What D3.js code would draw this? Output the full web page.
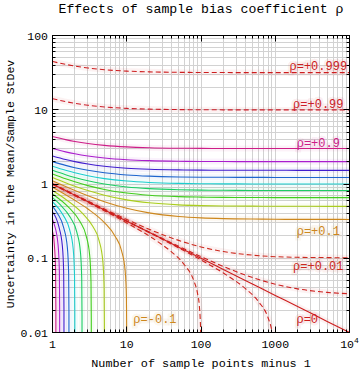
<!DOCTYPE html>
<html>
  <head>
    <meta charset="utf-8">
    <title>Effects of sample bias coefficient</title>
    <script src="https://d3js.org/d3.v7.min.js"></script>
    <style>
body { margin: 0; background: #fff; }
text { font-family: "Liberation Mono", "DejaVu Sans Mono", monospace; }
    </style>
  </head>
  <body>
<script>

// Curves with a positive (or zero) bias coefficient, sampled at the same x points
var rhoPos = [0.1, 0.2, 0.3, 0.4, 0.5, 0.6, 0.7, 0.8, 0.9, 0.99, 0.999, 0, 0.01, 0.001];
var xPos = [1, 1.5, 2, 3, 5, 10, 20, 50, 100, 200, 500, 1000, 2000, 5000, 10000];
var yPos = [
  [1.106, 0.923, 0.816, 0.694, 0.577, 0.471, 0.408, 0.365, 0.350, 0.342, 0.337, 0.335, 0.334, 0.334, 0.333],
  [1.225, 1.041, 0.935, 0.816, 0.707, 0.612, 0.559, 0.524, 0.512, 0.506, 0.503, 0.501, 0.501, 0.500, 0.500],
  [1.363, 1.175, 1.069, 0.951, 0.845, 0.756, 0.707, 0.676, 0.666, 0.660, 0.657, 0.656, 0.655, 0.655, 0.655],
  [1.528, 1.333, 1.225, 1.106, 1.000, 0.913, 0.866, 0.837, 0.827, 0.822, 0.819, 0.818, 0.817, 0.817, 0.817],
  [1.732, 1.528, 1.414, 1.291, 1.183, 1.095, 1.049, 1.020, 1.010, 1.005, 1.002, 1.001, 1.000, 1.000, 1.000],
  [2.000, 1.780, 1.658, 1.528, 1.414, 1.323, 1.275, 1.245, 1.235, 1.230, 1.227, 1.226, 1.225, 1.225, 1.225],
  [2.381, 2.134, 2.000, 1.856, 1.732, 1.633, 1.581, 1.549, 1.538, 1.533, 1.530, 1.529, 1.528, 1.528, 1.528],
  [3.000, 2.708, 2.550, 2.381, 2.236, 2.121, 2.062, 2.025, 2.012, 2.006, 2.002, 2.001, 2.001, 2.000, 2.000],
  [4.359, 3.958, 3.742, 3.512, 3.317, 3.162, 3.082, 3.033, 3.017, 3.008, 3.003, 3.002, 3.001, 3.000, 3.000],
  [14.11, 12.87, 12.21, 11.50, 10.91, 10.44, 10.20, 10.05, 10.00, 9.975, 9.960, 9.955, 9.952, 9.951, 9.950],
  [44.71, 40.81, 38.72, 36.50, 34.63, 33.15, 32.39, 31.92, 31.76, 31.69, 31.64, 31.62, 31.62, 31.61, 31.61],
  [1.000, 0.816, 0.707, 0.577, 0.447, 0.316, 0.224, 0.141, 0.100, 0.0707, 0.0447, 0.0316, 0.0224, 0.0141, 0.0100],
  [1.010, 0.827, 0.718, 0.589, 0.461, 0.333, 0.246, 0.174, 0.142, 0.123, 0.110, 0.105, 0.103, 0.102, 0.101],
  [1.001, 0.818, 0.708, 0.579, 0.449, 0.318, 0.226, 0.145, 0.105, 0.0775, 0.0548, 0.0447, 0.0387, 0.0347, 0.0332]
];

// Curves with a negative coefficient fall to zero, each has its own x points
var rhoNeg = [-0.1, -0.2, -0.3, -0.4, -0.5, -0.6, -0.7, -0.8, -0.9, -0.01, -0.001];
var xNeg = [
  [1, 2, 3, 5, 7, 8.5, 9.5, 9.9, 9.99, 10],
  [1, 1.5, 2.5, 3.5, 4.25, 4.75, 4.95, 4.995, 5],
  [1, 1.667, 2.333, 2.833, 3.167, 3.3, 3.33, 3.333],
  [1, 1.25, 1.75, 2.125, 2.375, 2.475, 2.4975, 2.5],
  [1, 1.4, 1.7, 1.9, 1.98, 1.998, 2],
  [1, 1.167, 1.417, 1.583, 1.65, 1.665, 1.667],
  [1, 1.214, 1.357, 1.414, 1.427, 1.429],
  [1, 1.0625, 1.1875, 1.2375, 1.2488, 1.25],
  [1, 1.0556, 1.1, 1.11, 1.111],
  [1, 3, 10, 30, 40, 60, 80, 90, 95, 99, 100],
  [1, 3, 10, 30, 100, 200, 400, 600, 800, 900, 950, 990, 1000]
];
var yNeg = [
  [0.905, 0.603, 0.461, 0.302, 0.197, 0.127, 0.0692, 0.0303, 0.00954, 0.001],
  [0.817, 0.624, 0.408, 0.267, 0.172, 0.0937, 0.0410, 0.0129, 0.001],
  [0.734, 0.480, 0.315, 0.202, 0.110, 0.0483, 0.0152, 0.001],
  [0.655, 0.535, 0.350, 0.225, 0.123, 0.0537, 0.0169, 0.001],
  [0.577, 0.378, 0.243, 0.133, 0.0580, 0.0183, 0.001],
  [0.500, 0.401, 0.257, 0.141, 0.0615, 0.0194, 0.001],
  [0.420, 0.270, 0.147, 0.0645, 0.0203, 0.001],
  [0.333, 0.280, 0.153, 0.0670, 0.0211, 0.001],
  [0.229, 0.158, 0.0692, 0.0218, 0.001],
  [0.990, 0.566, 0.299, 0.152, 0.122, 0.0812, 0.0498, 0.0332, 0.0228, 0.0100, 0.001],
  [0.999, 0.576, 0.315, 0.180, 0.0948, 0.0632, 0.0387, 0.0258, 0.0158, 0.0105, 0.00725, 0.00318, 0.001]
];

// Curve labels (anchor given in data units)
var labelText = ["ρ=+0.999", "ρ=+0.99", "ρ=+0.9", "ρ=+0.1", "ρ=+0.01", "ρ=0", "ρ=-0.1"];
var labelRho = [0.999, 0.99, 0.9, 0.1, 0.01, 0, -0.1];
var labelX = [3800, 3800, 3800, 3800, 3800, 2700, 24];
var labelY = [39, 12, 3.6, 0.236, 0.08, 0.0155, 0.0155];

var xTickValues = [1, 10, 100, 1000, 10000];
var xTickLabels = ["1", "10", "100", "1000", "10"];
var yTickValues = [0.01, 0.1, 1, 10, 100];
var yTickLabels = ["0.01", "0.1", "1", "10", "100"];

var width = 360,
    height = 372,
    plotLeft = 52.5, plotRight = 349.5,
    plotTop = 35.5, plotBottom = 332.5;

var x = d3.scaleLog().domain([1, 1e4]).range([plotLeft, plotRight]),
    y = d3.scaleLog().domain([0.01, 100]).range([plotBottom, plotTop]);

var svg = d3.select("body")
  .append("svg")
  .attr("width", width)
  .attr("height", height);

svg.append("defs")
  .append("clipPath")
    .attr("id", "plot-clip")
  .append("rect")
    .attr("x", plotLeft)
    .attr("y", plotTop)
    .attr("width", plotRight - plotLeft)
    .attr("height", plotBottom - plotTop);

function snap(v) { return Math.floor(v) + 0.5; }

function isMajor(d) {
  var l = Math.log10(d);
  return Math.abs(l - Math.round(l)) < 1e-6;
}

// hue follows |rho|, so rho near 0 or near 1 both end up red
function colour(rho) {
  return d3.hsl(Math.abs(rho) * 360, 0.75, 0.46).toString();
}

function dashed(rho) {
  var a = Math.abs(rho);
  return a > 0.95 || (a > 0 && a < 0.05);
}

// grid
var gridG = svg.append("g");
gridG.selectAll("line.v")
  .data(x.ticks())
  .enter().append("line")
    .attr("class", "v")
    .attr("x1", function(d) { return snap(x(d)); })
    .attr("x2", function(d) { return snap(x(d)); })
    .attr("y1", plotTop)
    .attr("y2", plotBottom)
    .attr("stroke", "#d2d2d2");
gridG.selectAll("line.h")
  .data(y.ticks())
  .enter().append("line")
    .attr("class", "h")
    .attr("y1", function(d) { return snap(y(d)); })
    .attr("y2", function(d) { return snap(y(d)); })
    .attr("x1", plotLeft)
    .attr("x2", plotRight)
    .attr("stroke", "#d2d2d2");

// build one list of curves from the arrays
var curves = [];
rhoNeg.forEach(function(rho, i) {
  curves.push({ rho: rho, points: xNeg[i].map(function(v, j) { return [v, yNeg[i][j]]; }) });
});
rhoPos.forEach(function(rho, i) {
  curves.push({ rho: rho, points: xPos.map(function(v, j) { return [v, yPos[i][j]]; }) });
});

var line = d3.line()
  .x(function(d) { return x(d[0]); })
  .y(function(d) { return y(d[1]); })
  .curve(d3.curveMonotoneX);

var curveG = svg.append("g").attr("clip-path", "url(#plot-clip)");

// soft halo under each curve
curveG.selectAll("path.halo")
  .data(curves)
  .enter().append("path")
    .attr("class", "halo")
    .attr("d", function(d) { return line(d.points); })
    .attr("fill", "none")
    .attr("stroke", function(d) { return colour(d.rho); })
    .attr("stroke-opacity", 0.06)
    .attr("stroke-width", 6);

curveG.selectAll("path.curve")
  .data(curves)
  .enter().append("path")
    .attr("class", "curve")
    .attr("d", function(d) { return line(d.points); })
    .attr("fill", "none")
    .attr("stroke", function(d) { return colour(d.rho); })
    .attr("stroke-width", 1.1)
    .attr("stroke-dasharray", function(d) { return dashed(d.rho) ? "5,3" : null; });

// curve labels
svg.append("g").selectAll("text")
  .data(labelText)
  .enter().append("text")
    .attr("x", function(d, i) { return x(labelX[i]); })
    .attr("y", function(d, i) { return y(labelY[i]); })
    .attr("dy", "0.35em")
    .attr("text-anchor", "middle")
    .attr("font-size", 12)
    .attr("fill", function(d, i) { return colour(labelRho[i]); })
    .attr("stroke", function(d, i) { return colour(labelRho[i]); })
    .attr("stroke-opacity", 0.08)
    .attr("stroke-width", 5)
    .attr("paint-order", "stroke")
    .text(function(d) { return d; });

// frame
svg.append("rect")
  .attr("x", plotLeft)
  .attr("y", plotTop)
  .attr("width", plotRight - plotLeft)
  .attr("height", plotBottom - plotTop)
  .attr("fill", "none")
  .attr("stroke", "#000");

// inward ticks on all four sides
var tickG = svg.append("g").attr("stroke", "#000");
x.ticks().forEach(function(d) {
  var sx = snap(x(d)), len = isMajor(d) ? 6 : 3;
  tickG.append("line").attr("x1", sx).attr("x2", sx).attr("y1", plotBottom).attr("y2", plotBottom - len);
  tickG.append("line").attr("x1", sx).attr("x2", sx).attr("y1", plotTop).attr("y2", plotTop + len);
});
y.ticks().forEach(function(d) {
  var sy = snap(y(d)), len = isMajor(d) ? 6 : 3;
  tickG.append("line").attr("y1", sy).attr("y2", sy).attr("x1", plotLeft).attr("x2", plotLeft + len);
  tickG.append("line").attr("y1", sy).attr("y2", sy).attr("x1", plotRight).attr("x2", plotRight - len);
});

// tick labels
var xLab = svg.append("g").selectAll("text")
  .data(xTickValues)
  .enter().append("text")
    .attr("x", function(d) { return x(d); })
    .attr("y", plotBottom + 15)
    .attr("text-anchor", "middle")
    .attr("font-size", 11.5)
    .attr("fill", "#000")
    .text(function(d, i) { return xTickLabels[i]; });
xLab.filter(function(d) { return d === 10000; })
  .append("tspan")
    .attr("dy", -5)
    .attr("font-size", 8)
    .text("4");

svg.append("g").selectAll("text")
  .data(yTickValues)
  .enter().append("text")
    .attr("x", plotLeft - 4.5)
    .attr("y", function(d) { return y(d); })
    .attr("dy", "0.35em")
    .attr("text-anchor", "end")
    .attr("font-size", 11.5)
    .attr("fill", "#000")
    .text(function(d, i) { return yTickLabels[i]; });

// titles
svg.append("text")
  .attr("x", (plotLeft + plotRight) / 2)
  .attr("y", 13)
  .attr("text-anchor", "middle")
  .attr("font-size", 13.2)
  .text("Effects of sample bias coefficient ρ");

svg.append("text")
  .attr("x", (plotLeft + plotRight) / 2)
  .attr("y", 367)
  .attr("text-anchor", "middle")
  .attr("font-size", 11.8)
  .text("Number of sample points minus 1");

svg.append("text")
  .attr("transform", "translate(14," + ((plotTop + plotBottom) / 2) + ") rotate(-90)")
  .attr("text-anchor", "middle")
  .attr("font-size", 11.5)
  .text("Uncertainty in the Mean/Sample StDev");

</script>
  </body>
</html>
